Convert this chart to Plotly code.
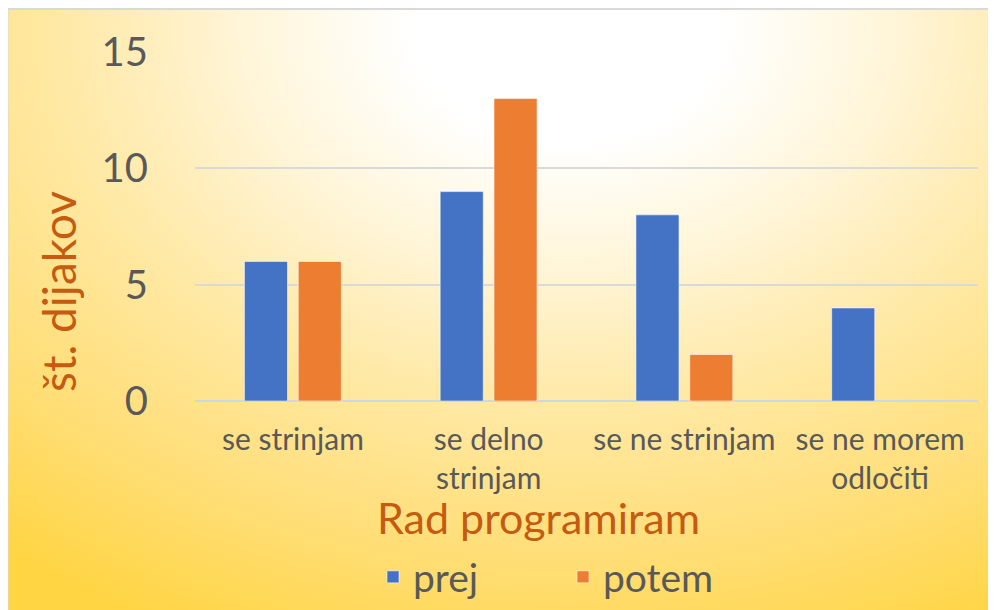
import base64
import plotly.graph_objects as go

categories = ["se strinjam", "se delno<br>strinjam", "se ne strinjam", "se ne morem<br>odločiti"]
prej = [6, 9, 8, 4]
potem = [6, 13, 2, 0]
y_ticks = [0, 5, 10, 15]

# page offset of the figure inside the browser window (body margin)
OFF = 8
W, H = 988, 602
ML, MR, MT, MB = 187, 18, 44, 209
PW, PH = W - ML - MR, H - MT - MB


def px_x(sx):
    # screen px -> paper x
    return (sx - OFF - ML) / PW


def px_y(sy):
    # screen px -> paper y
    return (H - MB - (sy - OFF)) / PH


svg = f"""<svg xmlns='http://www.w3.org/2000/svg' width='{W}' height='{H}' viewBox='0 0 {W} {H}' preserveAspectRatio='none'>
<defs>
<radialGradient id='g' gradientUnits='userSpaceOnUse' cx='560' cy='20' r='900'
 gradientTransform='translate(560 20) scale(1 0.74) translate(-560 -20)'>
<stop offset='0' stop-color='#FFFFFF'/>
<stop offset='0.17' stop-color='#FFFFFF'/>
<stop offset='0.36' stop-color='#FFF5D8'/>
<stop offset='0.58' stop-color='#FFE8A2'/>
<stop offset='0.8' stop-color='#FFDE76'/>
<stop offset='1' stop-color='#FFD544'/>
</radialGradient>
</defs>
<rect x='-0.5' y='1' width='{W + 10}' height='{H + 10}' fill='url(#g)' stroke='#D9D9D9' stroke-width='2'/>
</svg>"""
src = "data:image/svg+xml;base64," + base64.b64encode(svg.encode("utf-8")).decode("ascii")

FONT = "Lato, 'Open Sans', sans-serif"
GRAY = "#595959"
TITLE = "#C55A11"
EDGE = "rgba(255,255,255,0.55)"

fig = go.Figure()
fig.add_trace(go.Bar(
    x=categories, y=prej, name="prej",
    marker=dict(color="#4472C4", line=dict(color=EDGE, width=[1 if v > 0 else 0 for v in prej])),
))
fig.add_trace(go.Bar(
    x=categories, y=potem, name="potem",
    marker=dict(color="#ED7D31", line=dict(color=EDGE, width=[1 if v > 0 else 0 for v in potem])),
))

fig.update_layout(
    width=W, height=H,
    margin=dict(l=ML, r=MR, t=MT, b=MB, autoexpand=False),
    paper_bgcolor="white",
    plot_bgcolor="rgba(0,0,0,0)",
    font=dict(family=FONT, color=GRAY),
    barmode="group",
    bargap=0.45,
    bargroupgap=0.2,
    showlegend=True,
    legend=dict(
        orientation="h", x=px_x(373), xanchor="left", y=px_y(577), yanchor="middle",
        font=dict(size=39, color=GRAY, family=FONT),
        bgcolor="rgba(0,0,0,0)", itemwidth=30, traceorder="normal",
        entrywidth=145, entrywidthmode="pixels",
    ),
    images=[dict(
        source=src, xref="paper", yref="paper",
        x=-ML / PW, y=1 + MT / PH, sizex=W / PW, sizey=H / PH,
        xanchor="left", yanchor="top", sizing="stretch", layer="below",
    )],
    annotations=[
        dict(text="Rad programiram", x=px_x(538), y=px_y(517), xref="paper", yref="paper",
             xanchor="center", yanchor="middle", showarrow=False,
             font=dict(size=43, color=TITLE, family=FONT)),
        dict(text="št. dijakov", x=px_x(58), y=px_y(292), xref="paper", yref="paper",
             xanchor="center", yanchor="middle", showarrow=False, textangle=-90,
             font=dict(size=46, color=TITLE, family=FONT)),
    ],
)
fig.update_yaxes(
    range=[0, 15], tickvals=y_ticks, showgrid=True, gridcolor="#D9D9D9", gridwidth=1.5,
    zeroline=True, zerolinecolor="#D0D6E6", zerolinewidth=1.5,
    ticks="", ticklabelstandoff=46, tickfont=dict(size=40, color=GRAY, family=FONT),
    fixedrange=True,
)
fig.update_xaxes(
    showgrid=False, zeroline=False, showline=False, ticks="",
    ticklabelstandoff=18, tickfont=dict(size=30, color=GRAY, family=FONT),
    fixedrange=True,
)

fig.write_html("out.html")
